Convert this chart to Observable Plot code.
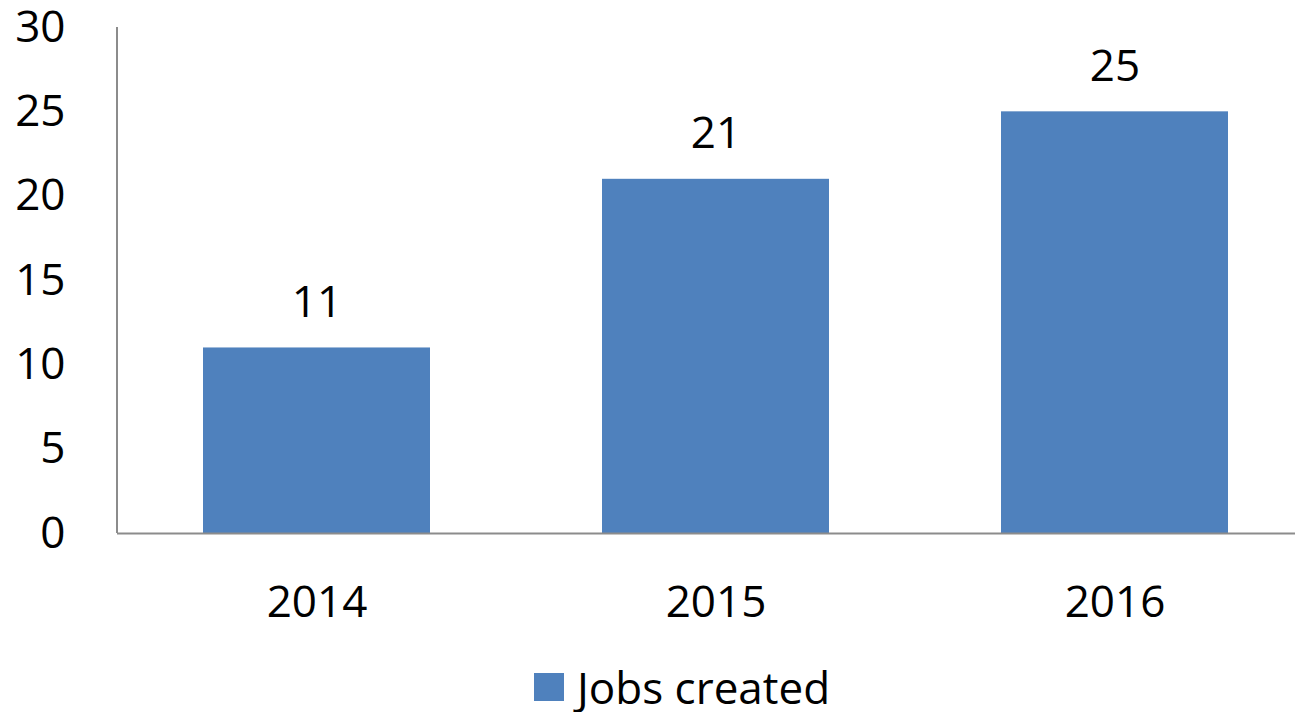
<!DOCTYPE html>
<html>
<head>
<meta charset="utf-8">
<script src="https://cdn.jsdelivr.net/npm/d3@7"></script>
<script src="https://cdn.jsdelivr.net/npm/@observablehq/plot@0.6"></script>
<style>
  html, body { margin: 0; padding: 0; background: #fff; overflow: hidden; }
  body { width: 1295px; height: 712px; font-family: "Open Sans", sans-serif; position: relative; }
  #legend { position: absolute; left: 534px; top: 663px; display: flex; align-items: center; font-size: 44px; line-height: 48px; color: #000; }
  #legend .sw { width: 30px; height: 28px; background: #4F81BD; margin-right: 13px; }
</style>
</head>
<body>
<div id="chart"></div>
<div id="legend"><div class="sw"></div><span>Jobs created</span></div>
<script>
const years = ["2014", "2015", "2016"];
const jobs = [11, 21, 25];
const seriesName = "Jobs created";
const yTicks = [0, 5, 10, 15, 20, 25, 30];

const data = years.map((y, i) => ({year: y, value: jobs[i]}));

// y-axis line drawn from the y scale
function yAxisLine(index, scales, values, dimensions) {
  const g = d3.create("svg:g");
  g.append("line")
    .attr("x1", dimensions.marginLeft).attr("x2", dimensions.marginLeft)
    .attr("y1", scales.y(d3.max(yTicks))).attr("y2", scales.y(0))
    .attr("stroke", "#8c8c8c").attr("stroke-width", 2);
  return g.node();
}

const chart = Plot.plot({
  width: 1295,
  height: 655,
  marginTop: 27,
  marginBottom: 122,
  marginLeft: 117,
  marginRight: 0,
  style: {fontFamily: "Open Sans, sans-serif", fontSize: "44px", color: "#000", background: "#fff"},
  x: {domain: years, range: [116, 1315], paddingInner: 0.43, paddingOuter: 0.215, label: null},
  y: {domain: [0, 30], label: null},
  marks: [
    Plot.barY(data, {x: "year", y: "value", fill: "#4F81BD"}),
    Plot.text(data, {x: "year", y: "value", text: d => String(d.value), dy: -45, fontSize: 44, fill: "#000"}),
    Plot.ruleY([0], {stroke: "#8c8c8c", strokeWidth: 2}),
    yAxisLine,
    Plot.axisY({ticks: yTicks, tickSize: 0, tickPadding: 52, fill: "#000", fontSize: 44, label: null}),
    Plot.axisX({tickSize: 0, tickPadding: 52, fill: "#000", fontSize: 44, label: null})
  ]
});
document.getElementById("chart").appendChild(chart);
</script>
</body>
</html>
